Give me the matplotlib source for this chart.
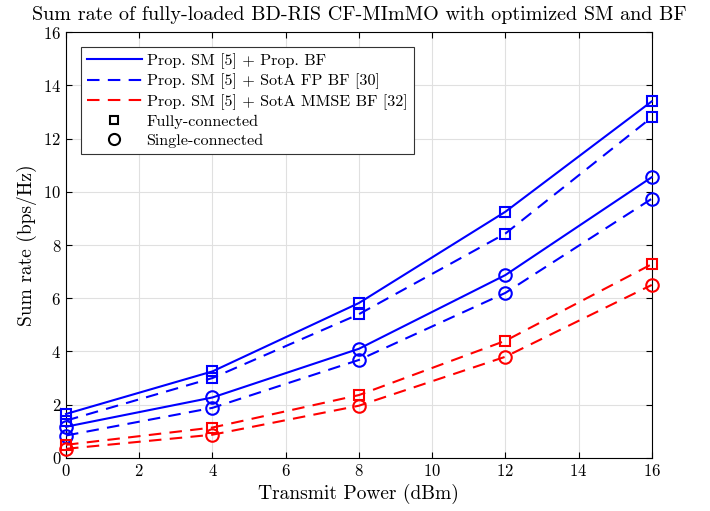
import matplotlib
matplotlib.use("Agg")
import matplotlib.pyplot as plt
from matplotlib.lines import Line2D

plt.rcParams['font.family'] = 'serif'
plt.rcParams['font.serif'] = ['cmr10']
plt.rcParams['mathtext.fontset'] = 'cm'
plt.rcParams['axes.formatter.use_mathtext'] = True

power_dbm = [0, 4, 8, 12, 16]

prop_fully = [1.65, 3.25, 5.82, 9.25, 13.4]
prop_single = [1.17, 2.27, 4.1, 6.87, 10.55]
fp_fully = [1.4, 3.0, 5.4, 8.43, 12.8]
fp_single = [0.84, 1.88, 3.68, 6.2, 9.74]
mmse_fully = [0.49, 1.14, 2.36, 4.4, 7.28]
mmse_single = [0.34, 0.87, 1.96, 3.8, 6.5]

legend_labels = ['Prop. SM [5] + Prop. BF',
                 'Prop. SM [5] + SotA FP BF [30]',
                 'Prop. SM [5] + SotA MMSE BF [32]',
                 'Fully-connected',
                 'Single-connected']

fig = plt.figure(figsize=(7.1, 5.11), dpi=100)
ax = fig.add_axes([0.093, 0.104, 0.825, 0.833])

dash = (0, (6, 4))
series = [
    (prop_fully, 'b', '-', 's', 7),
    (prop_single, 'b', '-', 'o', 9),
    (fp_fully, 'b', dash, 's', 7),
    (fp_single, 'b', dash, 'o', 9),
    (mmse_fully, 'r', dash, 's', 7),
    (mmse_single, 'r', dash, 'o', 9),
]
for vals, col, ls, mk, ms in series:
    ax.plot(power_dbm, vals, color=col, linestyle=ls, marker=mk, markersize=ms,
            markerfacecolor='none', markeredgewidth=1.5, linewidth=1.5,
            clip_on=False, zorder=3)

ax.set_xlim(0, 16)
ax.set_ylim(0, 16)
ax.set_xticks(range(0, 17, 2))
ax.set_yticks(range(0, 17, 2))
ax.tick_params(direction='in', top=True, right=True, labelsize=12, length=4)
ax.grid(True, color='#e0e0e0', linewidth=0.8)
ax.set_axisbelow(True)
for s in ax.spines.values():
    s.set_linewidth(0.8)

ax.set_xlabel('Transmit Power (dBm)', fontsize=14)
ax.set_ylabel('Sum rate (bps/Hz)', fontsize=14)
ax.set_title('Sum rate of fully-loaded BD-RIS CF-MImMO with optimized SM and BF',
             fontsize=14.5, pad=9)

handles = [
    Line2D([], [], color='b', linestyle='-', linewidth=1.5),
    Line2D([], [], color='b', linestyle=dash, linewidth=1.5),
    Line2D([], [], color='r', linestyle=dash, linewidth=1.5),
    Line2D([], [], color='k', linestyle='none', marker='s', markersize=6,
           markerfacecolor='none', markeredgewidth=1.5),
    Line2D([], [], color='k', linestyle='none', marker='o', markersize=8,
           markerfacecolor='none', markeredgewidth=1.5),
]
leg = ax.legend(handles, legend_labels, loc='upper left', fontsize=11.6,
                fancybox=False, edgecolor='#333333', framealpha=1,
                borderaxespad=0.9, handlelength=3.4, labelspacing=0.3,
                borderpad=0.4, handletextpad=0.3)
leg.get_frame().set_linewidth(0.8)
leg.set_zorder(5)

fig.savefig('out.png', dpi=100)
